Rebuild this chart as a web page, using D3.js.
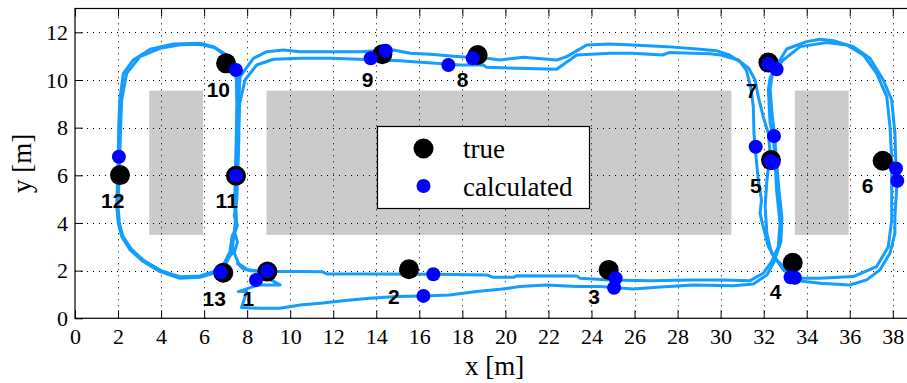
<!DOCTYPE html>
<html><head><meta charset="utf-8">
<script src="https://cdn.jsdelivr.net/npm/d3@7"></script>
<style>body{margin:0;background:#fff}svg{display:block}</style>
</head><body>
<svg id="chart" width="907" height="383"></svg>
<script>
// ---------- data ----------
const xTicks = [0,2,4,6,8,10,12,14,16,18,20,22,24,26,28,30,32,34,36,38];
const yTicks = [0,2,4,6,8,10,12];
const obstacles = [[3.45,5.95,3.5,9.55],[8.9,30.5,3.5,9.55],[33.45,35.95,3.5,9.55]];
const trueX = [8.94,15.52,24.8,33.35,32.34,37.53,32.22,18.71,14.28,7.02,7.48,2.09,6.89];
const trueY = [1.96,2.06,2.03,2.33,6.64,6.61,10.73,11.05,11.08,10.70,5.98,6.01,1.91];
const calcX = [8.94,8.41,16.65,16.19,25.12,25.05,33.25,33.45,32.48,31.63,32.32,32.45,38.15,38.21,32.22,32.6,17.35,18.48,13.74,14.44,7.48,7.48,2.04,6.77];
const calcY = [1.98,1.61,1.85,0.94,1.68,1.28,1.72,1.70,7.65,7.20,6.6,6.53,6.29,5.77,10.68,10.45,10.63,10.91,10.91,11.23,10.42,5.98,6.78,1.93];
const labelText = ["1","2","3","4","5","6","7","8","9","10","11","12","13"];
const labelX = [8.05,14.82,24.12,32.56,31.64,36.83,31.44,18.01,13.6,6.66,7.05,1.75,6.47];
const labelY = [0.84,0.9,0.9,1.12,5.56,5.56,9.58,10.04,10.04,9.61,4.94,4.94,0.84];
const legendItems = ["true","calculated"];

const lap1 = [
 [7.55,2.3],[7.8,2.08],[8.13,2.0],[8.9,1.98],[9.4,1.96],[10.46,1.96],[11.5,1.95],[11.7,1.86],[13.55,1.86],
 [16.65,1.85],[19.13,1.82],[19.44,1.72],[20.4,1.72],[20.52,1.79],[23.31,1.78],[23.47,1.68],[24.86,1.61],
 [26.72,1.58],[28.58,1.61],[30.13,1.61],[31.37,1.58],[31.98,1.89],[32.37,2.38],[32.68,3.0],[32.76,3.99],
 [32.6,5.38],[32.53,6.64],[32.45,7.65],[32.3,8.18],[32.22,9.58],[32.3,10.1],[32.45,10.35],[32.91,10.84],
 [33.7,11.4],[34.93,11.57],[35.86,11.47],[36.63,11.05],[37.25,10.28],[37.72,9.3],[37.87,8.04],[37.95,6.64],
 [37.95,4.12],[37.79,3.0],[37.25,2.17],[36.17,1.75],[34.62,1.68],[33.69,1.68],[33.22,1.89],[32.6,2.45],
 [32.22,3.0],[31.98,3.84],[31.83,4.41],[31.9,4.96],[31.75,5.8],[31.6,7.2],[31.55,7.76],[31.52,8.88],
 [31.4,9.7],[31.2,10.4],[30.9,10.77],[30.4,11.05],[29.8,11.23],[29.04,11.29],[27.5,11.4],[25.9,11.47],
 [24.86,11.51],[23.78,11.47],[22.85,10.98],[22.38,10.84],[20.83,10.95],[19.75,10.84],[19.13,10.91],
 [17.89,10.98],[16.5,11.08],[15.57,11.12],[14.79,11.26],[13.24,11.19],[10.46,11.19],[9.68,11.26],
 [8.91,11.19],[8.29,10.91],[7.67,10.14],[7.6,9.0],[7.58,8.0],[7.55,7.0],[7.52,6.0],[7.5,5.0],[7.45,4.2],
 [7.5,3.8],[7.35,3.4],[7.25,2.7],[6.95,2.2],[6.43,1.89],[5.81,1.72],[4.88,1.68],[3.95,1.96],[3.17,2.38],
 [2.56,2.87],[2.17,3.43],[2.01,3.99],[1.94,4.68],[1.98,6.0],[2.01,6.78],[2.03,8.0],[2.08,9.16],[2.25,10.28],
 [2.71,10.84],[3.49,11.29],[4.57,11.51],[5.81,11.54],[6.43,11.4],[7.05,11.05],[7.43,10.63],[7.54,10.0],
 [7.55,9.0],[7.53,8.0],[7.5,7.0],[7.47,6.0],[7.45,5.0],[7.5,4.2],[7.42,3.6],[7.55,3.2],[7.4,2.75],[7.6,2.3]
];
const lap2 = [
 [7.6,2.3],[8.0,2.05],[8.6,1.95],[8.83,1.75],[9.53,1.4],[8.52,1.4],[7.59,1.12],[7.98,1.12],[7.74,0.45],
 [8.6,0.42],[9.53,0.42],[10.46,0.56],[11.5,0.64],[12.8,0.77],[13.7,0.84],[14.95,0.91],[16.2,0.94],[17.4,0.98],
 [18.67,1.12],[19.75,1.22],[20.68,1.33],[21.9,1.4],[23.3,1.33],[24.4,1.33],[25.94,1.23],[27.03,1.3],
 [28.73,1.4],[30.59,1.37],[31.52,1.44],[32.15,1.82],[32.45,2.31],[32.8,3.2],[32.85,4.2],[32.7,5.5],
 [32.6,6.6],[32.5,7.7],[32.4,8.5],[32.3,9.6],[32.45,10.6],[32.76,10.84],[33.07,11.3],[34.0,11.61],
 [34.62,11.71],[35.24,11.65],[36.17,11.4],[36.94,10.91],[37.56,10.0],[37.95,9.16],[38.1,7.76],[38.15,6.3],
 [38.2,5.77],[38.1,4.26],[38.1,3.57],[37.87,2.73],[37.4,2.03],[36.79,1.61],[36.0,1.4],[34.62,1.47],
 [33.8,1.55],[33.4,1.7],[32.9,2.05],[32.37,2.73],[32.15,3.57],[32.07,4.68],[32.15,5.8],[32.3,6.92],
 [32.22,7.76],[31.98,8.46],[31.75,9.3],[31.6,10.0],[31.3,10.5],[30.8,10.85],[30.0,11.05],[29.5,11.1],
 [27.6,11.15],[27.3,11.05],[25.9,11.12],[24.86,11.12],[23.31,11.05],[22.38,10.45],[20.52,10.49],
 [19.13,10.53],[18.97,10.63],[17.89,10.63],[15.1,10.81],[11.93,10.91],[10.46,10.91],[9.22,10.87],
 [8.44,10.63],[7.9,10.0],[7.65,9.0],[7.62,8.0],[7.6,7.0],[7.56,6.0],[7.52,5.0],[7.4,4.3],[7.55,3.9],
 [7.3,3.45],[7.2,2.8],[6.9,2.25],[6.4,1.95],[5.8,1.78],[4.9,1.74],[4.0,2.0],[3.2,2.42],[2.62,2.9],
 [2.22,3.45],[2.06,4.0],[2.0,4.7],[2.05,6.0],[2.08,6.8],[2.12,8.0],[2.17,9.16],[2.4,10.28],[3.02,10.98],
 [3.95,11.33],[4.9,11.48],[5.81,11.5],[6.5,11.35],[7.0,11.02],[7.38,10.6],[7.5,10.0],[7.52,9.0],[7.5,8.0],
 [7.48,7.0],[7.45,6.0],[7.42,5.0],[7.45,4.0],[7.35,3.3],[7.3,2.7]
];

// ---------- scales ----------
const svg = d3.select("#chart");
const x = d3.scaleLinear().domain([0,39]).range([75,914.3]);
const y = d3.scaleLinear().domain([0,13]).range([318.3,8.5]);
const serif = "'Liberation Serif','Times New Roman',Times,serif";
const sans = "'Liberation Sans',Arial,Helvetica,sans-serif";

// obstacles
svg.append("g").selectAll("rect").data(obstacles).join("rect")
  .attr("x", d=>x(d[0])).attr("width", d=>x(d[1])-x(d[0]))
  .attr("y", d=>y(d[3])).attr("height", d=>y(d[2])-y(d[3]))
  .attr("fill","#cbcbcb");

// grid
const grid = svg.append("g").attr("stroke","#000").attr("stroke-width",1).attr("stroke-dasharray","1,5");
grid.selectAll("line.v").data(xTicks.slice(1)).join("line").attr("class","v")
  .attr("x1",d=>Math.round(x(d))+0.5).attr("x2",d=>Math.round(x(d))+0.5)
  .attr("y1",y(0)).attr("y2",y(13));
grid.selectAll("line.h").data(yTicks.slice(1)).join("line").attr("class","h")
  .attr("y1",d=>Math.round(y(d))+0.5).attr("y2",d=>Math.round(y(d))+0.5)
  .attr("x1",x(0)).attr("x2",x(39));

// trajectory
const line = d3.line().x(d=>x(d[0])).y(d=>y(d[1]));
svg.append("g").selectAll("path").data([lap1, lap2]).join("path")
  .attr("d", line).attr("fill","none").attr("stroke","#129dff")
  .attr("stroke-width",3).attr("stroke-linejoin","round").attr("stroke-linecap","round");

// true points
svg.append("g").selectAll("circle").data(trueX).join("circle")
  .attr("cx",(d,i)=>x(d)).attr("cy",(d,i)=>y(trueY[i])).attr("r",10).attr("fill","#000");
// calculated points
svg.append("g").selectAll("circle").data(calcX).join("circle")
  .attr("cx",(d,i)=>x(d)).attr("cy",(d,i)=>y(calcY[i])).attr("r",7).attr("fill","#0000ff");

// labels
svg.append("g").selectAll("text").data(labelText).join("text")
  .attr("x",(d,i)=>x(labelX[i])).attr("y",(d,i)=>y(labelY[i]))
  .attr("text-anchor","middle").attr("dy","0.36em")
  .style("font-family",sans).style("font-weight","bold").style("font-size","21px")
  .text(d=>d);

// axes
const fmt = d3.format("d");
const gx = svg.append("g").attr("transform",`translate(0,${y(0)})`)
  .call(d3.axisBottom(x).tickValues(xTicks).tickSize(-8).tickPadding(10).tickFormat(fmt));
const gt = svg.append("g").attr("transform",`translate(0,${y(13)})`)
  .call(d3.axisTop(x).tickValues(xTicks).tickSize(-8).tickFormat(""));
const gy = svg.append("g").attr("transform",`translate(${x(0)},0)`)
  .call(d3.axisLeft(y).tickValues(yTicks).tickSize(-8).tickPadding(7).tickFormat(fmt));
[gx,gt,gy].forEach(g=>{
  g.attr("font-family",null).attr("font-size",null);
  g.select(".domain").remove();
  g.selectAll(".tick line").attr("stroke","#000");
  g.selectAll("text").style("font-family",serif).style("font-size","22px").attr("fill","#000");
});
// frame
svg.append("rect").attr("x",x(0)).attr("y",y(13)).attr("width",x(39)-x(0)).attr("height",y(0)-y(13))
  .attr("fill","none").attr("stroke","#000").attr("stroke-width",1.2);

// axis labels
svg.append("text").attr("x",(x(0)+x(39))/2).attr("y",375).attr("text-anchor","middle")
  .style("font-family",serif).style("font-size","27px").text("x [m]");
svg.append("text").attr("transform",`translate(31,${(y(0)+y(13))/2}) rotate(-90)`).attr("text-anchor","middle")
  .style("font-family",serif).style("font-size","27px").text("y [m]");

// legend
const lg = svg.append("g");
lg.append("rect").attr("x",377.5).attr("y",126.5).attr("width",212).attr("height",82)
  .attr("fill","#fff").attr("stroke","#000").attr("stroke-width",1.2);
lg.selectAll("circle").data(legendItems).join("circle")
  .attr("cx",423.5).attr("cy",(d,i)=>148.5+i*37.5).attr("r",(d,i)=>i?7:10)
  .attr("fill",(d,i)=>i?"#0000ff":"#000");
lg.selectAll("text").data(legendItems).join("text")
  .attr("x",463).attr("y",(d,i)=>157.5+i*38.5)
  .style("font-family",serif).style("font-size","27px").text(d=>d);
</script>
</body></html>
